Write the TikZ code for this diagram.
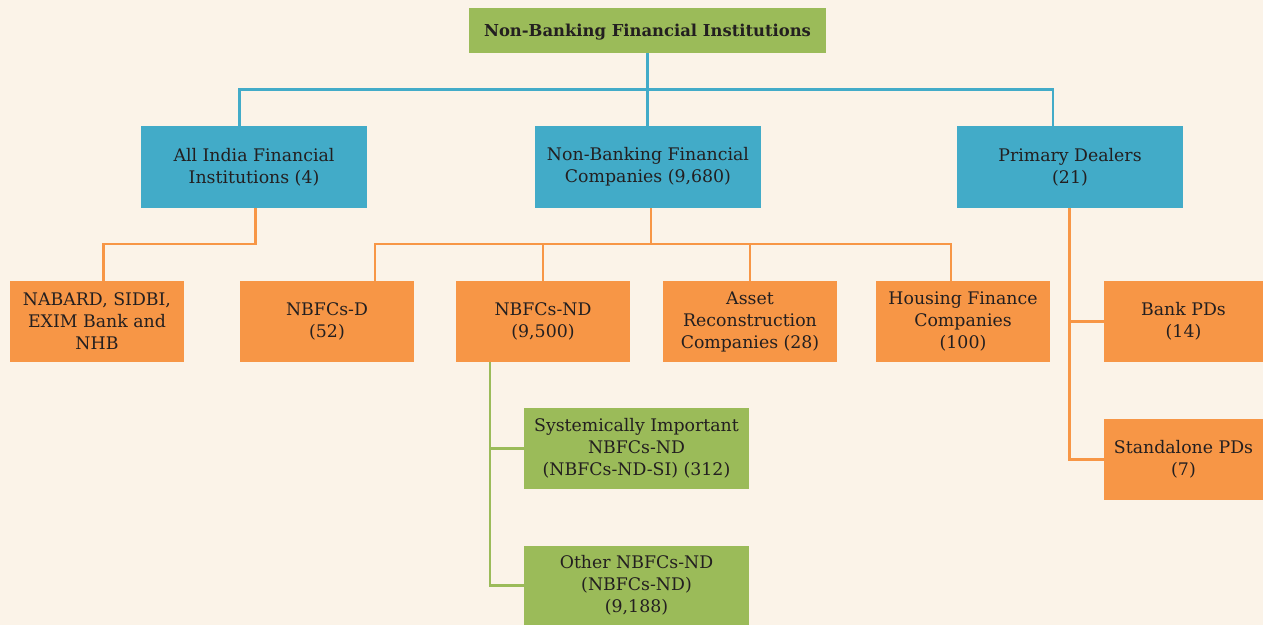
\documentclass[tikz,border=0pt]{standalone}
\usepackage{fontspec}
\setmainfont{DejaVu Serif}
\definecolor{bg}{RGB}{251,243,232}
\definecolor{bgreen}{RGB}{155,187,89}
\definecolor{bblue}{RGB}{66,171,200}
\definecolor{borange}{RGB}{247,150,70}
\definecolor{txt}{RGB}{35,31,32}
\tikzset{
  box/.style={rectangle, inner sep=0pt, align=center, text=txt,
    font=\fontsize{13}{16.5}\selectfont},
  bluebox/.style={box, fill=bblue, minimum width=169.5pt, minimum height=61.5pt},
  orangebox/.style={box, fill=borange, minimum width=130.5pt, minimum height=60.75pt},
  greenbox/.style={box, fill=bgreen, minimum width=168.75pt, minimum height=60.75pt},
  bline/.style={draw=bblue, line width=2.2pt, line join=miter},
  oline/.style={draw=borange, line width=1.8pt, line join=miter},
  gline/.style={draw=bgreen, line width=1.8pt, line join=miter},
}
\begin{document}
\begin{tikzpicture}[x=0.75pt,y=-0.75pt]
\fill[bg] (0,0) rectangle (1263,625);
\useasboundingbox (0,0) rectangle (1263,625);

% top
\node[box, fill=bgreen, minimum width=267.75pt, minimum height=33.75pt, text depth=0pt,
      font=\fontsize{12.3}{14}\selectfont\bfseries] (top) at (647.5,30.5) {Non-Banking Financial Institutions};

% blue row
\node[bluebox] (aifi) at (254,167) {All India Financial\\Institutions (4)};
\node[bluebox] (nbfc) at (648,167) {Non-Banking Financial\\Companies (9,680)};
\node[bluebox] (ppd) at (1070,167) {Primary Dealers\\(21)};

% orange row
\node[orangebox] (nabard) at (97,321.5) {NABARD, SIDBI,\\EXIM Bank and\\NHB};
\node[orangebox] (nbfcd) at (327,321.5) {NBFCs-D\\(52)};
\node[orangebox] (nd) at (543,321.5) {NBFCs-ND\\(9,500)};
\node[orangebox] (arc) at (750,321.5) {Asset\\Reconstruction\\Companies (28)};
\node[orangebox] (hfc) at (963,321.5) {Housing Finance\\Companies\\(100)};

% primary dealers
\node[orangebox, minimum width=119.25pt] (bpd) at (1183.5,321.5) {Bank PDs\\(14)};
\node[orangebox, minimum width=119.25pt] (spd) at (1183.5,459.5) {Standalone PDs\\(7)};

% green
\node[greenbox] (si) at (636.5,448.5) {Systemically Important\\NBFCs-ND\\(NBFCs-ND-SI) (312)};
\node[greenbox, minimum height=59.25pt] (other) at (636.5,585.5) {Other NBFCs-ND\\(NBFCs-ND)\\(9,188)};

% blue connectors
\coordinate (b1) at (239.5,89.5);
\coordinate (b3) at (1053,89.5);
\draw[bline] (top.south) -- (top.south |- nbfc.north);
\draw[bline] (aifi.north -| b1) -- (b1) -- (b3) -- (ppd.north -| b3);

% orange connectors
\coordinate (o1) at (103.5,244);
\draw[oline] (aifi.south -| 255.5,0) |- (o1) -- (nabard.north -| o1);
\coordinate (oL) at (375,244);
\coordinate (oR) at (951,244);
\coordinate (oM) at (651,244);
\draw[oline] (nbfc.south -| oM) -- (oM);
\draw[oline] (nbfcd.north -| oL) -- (oL) -- (oR) -- (hfc.north -| oR);
\draw[oline] (nd.north) -- (nd.north |- oL);
\draw[oline] (arc.north) -- (arc.north |- oL);

% PD connectors
\coordinate (p1) at (1069.5,0);
\draw[oline] (ppd.south -| p1) |- (spd.west);
\draw[oline] (bpd.west) -- (bpd.west -| p1);

% green connectors
\coordinate (g1) at (490,0);
\draw[gline] (nd.south -| g1) |- (other.west);
\draw[gline] (si.west) -- (si.west -| g1);
\end{tikzpicture}
\end{document}
